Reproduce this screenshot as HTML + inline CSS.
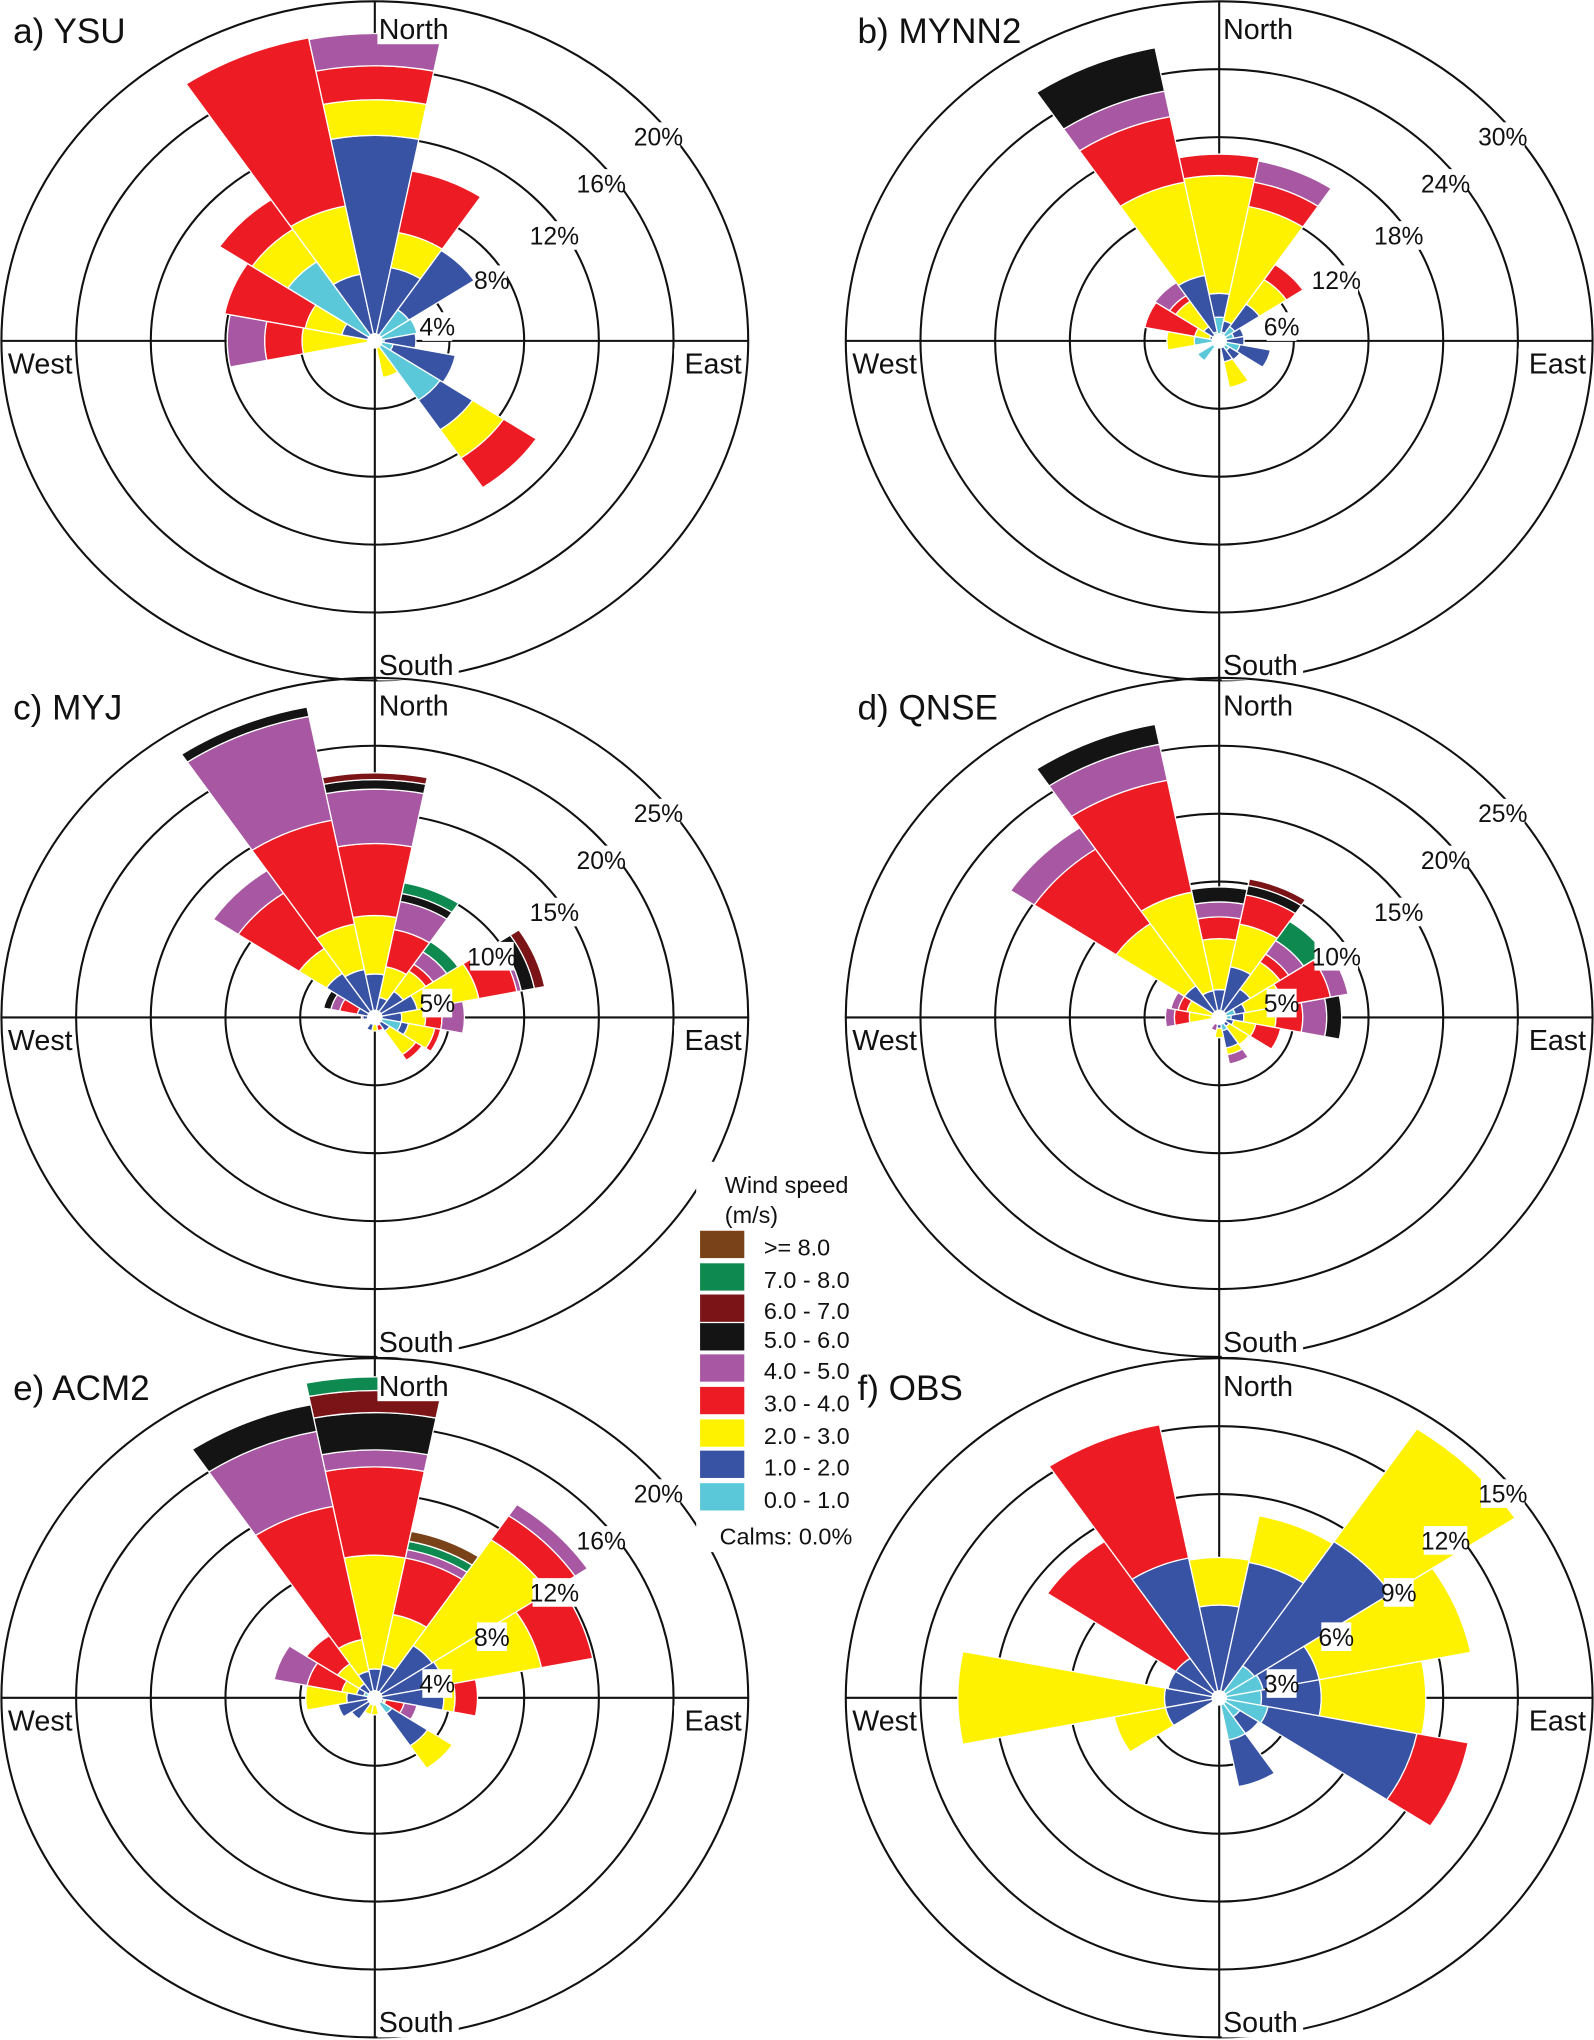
<!DOCTYPE html>
<html><head><meta charset="utf-8"><style>
html,body{margin:0;padding:0;background:#fff}
svg{display:block;font-family:"Liberation Sans",sans-serif}
</style></head><body>
<svg id="fig" width="1594" height="2040" viewBox="0 0 1225 1568" xmlns="http://www.w3.org/2000/svg"></svg>
<script>
// Bin cumulative values per direction (N, NNE, ..., NNW); bins: 0-1,1-2,2-3,3-4,4-5,5-6,6-7,7-8,>=8
const binLabels = [">= 8.0","7.0 - 8.0","6.0 - 7.0","5.0 - 6.0","4.0 - 5.0","3.0 - 4.0","2.0 - 3.0","1.0 - 2.0","0.0 - 1.0"];
const binColors = ["#5BC8DA","#3953A4","#FFF200","#ED1C24","#A857A2","#141414","#7B1416","#0E8A50","#7A4219"];
const dirs = ["N","NNE","NE","ENE","E","ESE","SE","SSE","S","SSW","SW","WSW","W","WNW","NW","NNW"];
const ysu = [[0,12.1,14.2,16.2,18.1],[0,4.4,6.5,10.2],[2.2,6.4],[2.3],[0.5,2.2],[1,4.4],[4.2,6.3,8.3,10.4],[0,0,2.2],[],[],[],[],[0,0,3.9,5.9,7.9],[0,1.8,3.8,8.2],[5.6,5.6,7.9,10],[0,4.0,8.1,18.2]];
const mynn2 = [[2.1,4.2,14.6,16.5],[0.8,1.8,12.1,14.3,16.2],[1.5,3.9,6.5,8.1],[1.2,2.0],[0.5,2.0],[1.7,4.2],[1.0,2.0],[0,1.9,4.2],[],[],[2.1],[],[2.0,2.0,4.2],[0,0.8,2.0,6.1],[0.5,1.5,4.2,4.8,6.2],[0.8,5.9,14.3,20.2,22.5,26.4]];
const myj = [[0.5,3.2,7.5,12.8,16.8,17.5,18.0],[0,1.5,3.8,6.6,8.7,9.3,9.3,10.1],[0,2.3,4.1,4.7,5.8,5.8,5.8,6.7],[0,2.9,7.1,9.7,10.0,10.9,11.6],[0,1.8,3.4,4.5,6.0],[1.8,2.3,4.1,4.5],[0,1.2,3.3,3.8],[0,0,0.6,1.0],[0,0,1.0],[0,1.0],[],[],[0,0.8,0.8,0.9],[0,1.2,1.2,2.4,3.0,3.5],[0,3.9,6.1,11,13],[0,3.6,7.0,14.8,22.6,23.3]];
const qnse = [[0,2.05,5.8,7.4,8.5,9.6],[0,3.8,7.0,9.2,9.2,9.9,10.4],[0,2.5,4.9,5.6,6.8,6.8,6.8,8.5],[1.1,1.8,4.4,7.6,8.8],[0.8,1.65,3.8,5.6,7.2,8.2],[0,1.0,2.5,4.2],[0,0.8,2.4],[1,2.3,2.8,2.8,3.5],[0,0.8,1.5],[0,0,0,0,1.0],[],[],[0,0,2.0,3.0,3.6],[0,0,2.2,2.8,3.3],[0,2.8,8.3,14.9,16.8],[0,2.0,9.4,17.8,20.5,22]];
const acm2 = [[0,1.7,8.4,13.6,14.6,16.8,18.1,18.9],[0,2.0,5.0,8.4,8.9,8.9,8.9,9.4,10.0],[0,3.7,11.2,12.9,13.7],[0,3.8,9.1,11.9],[0,3.7,4.3,5.5],[0.3,0.5,0.6,1.6,2.3],[1.1,3.4,5.0],[],[0,0,1.0],[0,0,1.0],[0,1.5],[0,2.0],[0,1.5,3.7],[0.6,1.0,1.8,3.7,5.5],[0,1.0,2.4,4.4],[0,1.6,3.5,11.5,16,17.6]];
const obs = [[0,4.1,6.2],[0,6.1,8.2],[1.7,8.3,14.3],[1.8,4.1,10.3],[1.7,4.1,8.3],[2.0,8.1,8.1,10.2],[1.0,1.9],[1.9,4.0],[],[],[],[0,2.2,4.3],[0,2.2,10.5],[0,2.1],[0,2.1,2.1,8.3],[0,6.3,6.3,12.3]];
const panelTitles = ["a) YSU","b) MYNN2","c) MYJ","d) QNSE","e) ACM2","f) OBS"];
const panelMax = [20,30,25,25,20,15];
const panelTicks = [[4,8,12,16,20],[6,12,18,24,30],[5,10,15,20,25],[5,10,15,20,25],[4,8,12,16,20],[3,6,9,12,15]];
const panelData = [ysu,mynn2,myj,qnse,acm2,obs];

const NS="http://www.w3.org/2000/svg";
const svg=document.getElementById('fig');
function el(tag,attrs,parent){const e=document.createElementNS(NS,tag);for(const k in attrs)e.setAttribute(k,attrs[k]);(parent||svg).appendChild(e);return e;}
const centers=[[288,262],[937,262],[288,782],[937,782],[288,1305],[937,1305]];
const RX=287, RY=261;
const labelOffsets=[[48,-11],[90,-47],[138,-81],[174,-121],[218,-157]];

panelData.forEach((data,pi)=>{
  const [cx,cy]=centers[pi];
  const mx=panelMax[pi];
  const kx=RX/mx, ky=RY/mx;
  const g=el('g',{});
  
  
  const pt=(a,r)=>{const t=a*Math.PI/180;return [cx+r*kx*Math.sin(t), cy-r*ky*Math.cos(t)];};
  panelTicks[pi].forEach(v=>{
    const ring=el('ellipse',{cx:cx,cy:cy,rx:v*kx,ry:v*ky,fill:'none',stroke:'#111','stroke-width':1.6},g);
    
    
  });
  const ax1=el('line',{x1:cx-RX,y1:cy,x2:cx+RX,y2:cy,stroke:'#111','stroke-width':1.6},g);
  
  
  const ax2=el('line',{x1:cx,y1:cy-RY,x2:cx,y2:cy+RY,stroke:'#111','stroke-width':1.6},g);
  
  
  data.forEach((cum,di)=>{
    const a=di*22.5, a1=a-11.25, a2=a+11.25;
    let prev=0;
    const last=cum.length?cum[cum.length-1]:0;
    for(let b=0;b<9;b++){
      const v=b<cum.length?cum[b]:last;
      if(v>prev+0.001){
        const p1=pt(a1,prev),p2=pt(a1,v),p3=pt(a2,v),p4=pt(a2,prev);
        let d=`M${p1[0]},${p1[1]} L${p2[0]},${p2[1]} A${v*kx},${v*ky} 0 0 1 ${p3[0]},${p3[1]} L${p4[0]},${p4[1]}`;
        if(prev>0) d+=` A${prev*kx},${prev*ky} 0 0 0 ${p1[0]},${p1[1]}`;
        d+=' Z';
        const s=el('path',{d:d,fill:binColors[b],stroke:'#fff','stroke-width':1},g);
        
        
        prev=v;
      }
    }
  });
  const hole=el('ellipse',{cx:cx,cy:cy,rx:6,ry:6,fill:'#fff'},g);
  
  
  panelTicks[pi].forEach((v,i)=>{
    const [ox,oy]=labelOffsets[i];
    const txt=v+'%';
    const w=txt.length*10.5;
    const bg=el('rect',{x:cx+ox-w/2-1,y:cy+oy-11,width:w+2,height:22,fill:'#fff'},g);
    
    
    const t=el('text',{x:cx+ox,y:cy+oy+7,'font-size':19,'text-anchor':'middle',fill:'#111'},g);
    t.textContent=txt;
    
    
  });
  const compass=[['North',cx+3,cy-RY+29,'start'],['South',cx+3,cy+RY-4,'start'],['West',cx-RX+5,cy+25,'start'],['East',cx+RX-5,cy+25,'end']];
  compass.forEach(c=>{
    const bb=el('rect',{x:c[3]==='end'?c[1]-52:c[1]-1,y:c[2]-19,width:c[0].length*12.5,height:23,fill:'#fff'},g);
    
    
    const t=el('text',{x:c[1],y:c[2],'font-size':22,'text-anchor':c[3],fill:'#111'},g);
    t.textContent=c[0];
    
    
  });
});

// legend
const lg=el('g',{});


const lbg=el('rect',{x:535,y:893,width:124,height:300,fill:'#fff'},lg);


const lt1=el('text',{x:557,y:917,'font-size':18,fill:'#111'},lg);
lt1.textContent='Wind speed';


const lt2=el('text',{x:557,y:940,'font-size':18,fill:'#111'},lg);
lt2.textContent='(m/s)';


const rowY=[958,983,1007,1029,1053,1078,1103,1127,1152];
binLabels.forEach((lab,i)=>{
  const sw=el('rect',{x:538,y:rowY[i]-12,width:34,height:21,fill:binColors[8-i]},lg);
  
  
  const t=el('text',{x:587,y:rowY[i]+7,'font-size':18,fill:'#111'},lg);
  t.textContent=lab;
  
  
});
const calm=el('text',{x:553,y:1187,'font-size':18,fill:'#111'},lg);
calm.textContent='Calms: 0.0%';



// panel titles drawn last so nothing covers them
panelTitles.forEach((tt,pi)=>{
  const [cx,cy]=centers[pi];
  const title=el('text',{x:cx-278,y:cy-RY+32,'font-size':27,fill:'#111'});
  title.textContent=tt;
  
  
});
</script>
</body></html>
